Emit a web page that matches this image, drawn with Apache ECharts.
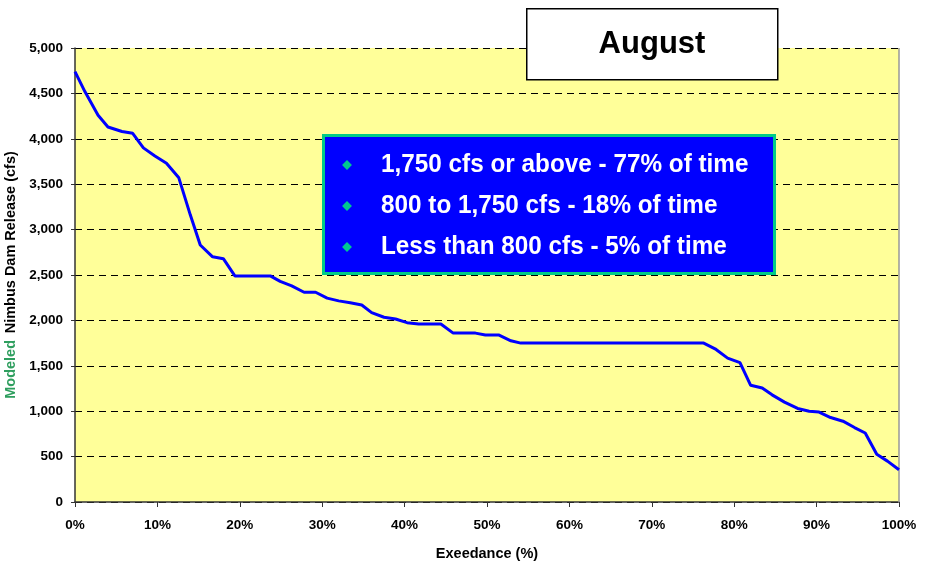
<!DOCTYPE html>
<html>
<head>
<meta charset="utf-8">
<script src="https://cdn.jsdelivr.net/npm/echarts@6/dist/echarts.min.js"></script>
<style>
  html, body { margin: 0; padding: 0; background: #fff; }
  #chart { width: 925px; height: 562px; }
</style>
</head>
<body>
<div id="chart"></div>
<script>
  // exceedance (%) and modeled release (cfs)
  var exceedance = [0, 1.2, 2.8, 4.0, 5.7, 7.0, 8.3, 9.7, 11.1, 12.6, 14.0, 15.2, 16.7, 18.0, 19.4, 23.7, 24.9, 26.3, 27.8, 29.2,
    30.6, 32.0, 33.4, 34.8, 36.0, 37.5, 38.9, 40.3, 41.7, 44.4, 45.9, 48.6, 49.8, 51.4, 52.9, 54.1,
    76.3, 77.8, 79.2, 80.7, 82.0, 83.4, 84.6, 86.1, 87.7, 89.1, 90.3, 91.7, 93.2, 94.6, 95.9, 97.3, 98.6, 100];
  var release = [4740, 4520, 4260, 4130, 4080, 4060, 3900, 3810, 3730, 3570, 3160, 2830, 2700, 2680, 2490, 2490, 2430, 2380, 2310, 2310,
    2245, 2215, 2195, 2170, 2085, 2035, 2015, 1975, 1960, 1960, 1860, 1860, 1840, 1840, 1775, 1750,
    1750, 1680, 1585, 1535, 1285, 1255, 1180, 1100, 1030, 1000, 990, 930, 890, 820, 760, 525, 450, 355];
  var summaryLines = ['1,750 cfs or above - 77% of time', '800 to 1,750 cfs - 18% of time', 'Less than 800 cfs - 5% of time'];
  var monthTitle = 'August';

  var points = exceedance.map(function (x, i) { return [x, release[i]]; });

  var chart = echarts.init(document.getElementById('chart'));

  var boxGraphics = [
    {
      type: 'rect', left: 526, top: 8, z: 100,
      shape: { width: 251, height: 71 },
      style: { fill: '#fff', stroke: '#000', lineWidth: 1.5 }
    },
    {
      type: 'text', x: 652, y: 44, z: 101,
      style: { text: monthTitle, fill: '#000', font: 'bold 31px "Liberation Sans", Arial', textAlign: 'center', textVerticalAlign: 'middle' }
    },
    {
      type: 'rect', left: 322, top: 134, z: 100,
      shape: { width: 451, height: 138 },
      style: { fill: '#0000ff', stroke: '#00cc88', lineWidth: 3 }
    }
  ];
  summaryLines.forEach(function (t, i) {
    var y = 165 + i * 41;
    boxGraphics.push({
      type: 'rect', z: 101, x: 347, y: y, rotation: Math.PI / 4,
      shape: { x: -3.5, y: -3.5, width: 7, height: 7 },
      style: { fill: '#00c890' }
    });
    boxGraphics.push({
      type: 'text', x: 381, y: y, z: 101, scaleX: 0.935,
      style: { text: t, fill: '#fff', font: 'bold 26px "Liberation Sans", Arial', textVerticalAlign: 'middle' }
    });
  });

  var bold = { fontFamily: 'Liberation Sans', fontWeight: 'bold', color: '#000' };

  chart.setOption({
    animation: false,
    backgroundColor: '#fff',
    grid: {
      left: 75, right: 26, top: 48, bottom: 60, containLabel: false, outerBoundsMode: 'none',
      show: true, backgroundColor: '#ffff99', borderWidth: 0
    },
    xAxis: {
      type: 'value', min: 0, max: 100, interval: 10,
      name: 'Exeedance (%)', nameLocation: 'middle', nameGap: 44,
      nameTextStyle: Object.assign({ fontSize: 14.5 }, bold),
      axisLine: { onZero: false, lineStyle: { color: '#333', width: 1.5 } },
      axisTick: { show: true, length: 5, lineStyle: { color: '#333' } },
      axisLabel: Object.assign({ formatter: '{value}%', fontSize: 13.5, margin: 16 }, bold),
      splitLine: { show: false }
    },
    yAxis: {
      type: 'value', min: 0, max: 5000, interval: 500,
      name: '{g|Modeled}  {b|Nimbus Dam Release (cfs)}', nameLocation: 'middle', nameGap: 55,
      nameTextStyle: {
        rich: {
          g: { fontFamily: 'Liberation Sans', fontWeight: 'bold', fontSize: 14.5, color: '#2e9e5e' },
          b: { fontFamily: 'Liberation Sans', fontWeight: 'bold', fontSize: 14.5, color: '#000' }
        }
      },
      axisLine: { show: true, lineStyle: { color: '#333', width: 1.5 } },
      axisTick: { show: true, length: 4, lineStyle: { color: '#333' } },
      axisLabel: Object.assign({
        fontSize: 13.5, margin: 12,
        formatter: function (v) { return v.toLocaleString('en-US'); }
      }, bold),
      splitLine: { show: true, lineStyle: { color: '#000', type: [7, 5], width: 1 } }
    },
    series: [{
      type: 'line', data: points, showSymbol: false, symbol: 'none',
      lineStyle: { color: '#0000ff', width: 3 }
    }, {
      // right-hand frame of the plot area
      type: 'line', data: [[100, 0], [100, 5000]], symbol: 'none', silent: true, z: 1,
      lineStyle: { color: '#999', width: 1.5 }
    }],
    graphic: boxGraphics
  });
</script>
</body>
</html>
